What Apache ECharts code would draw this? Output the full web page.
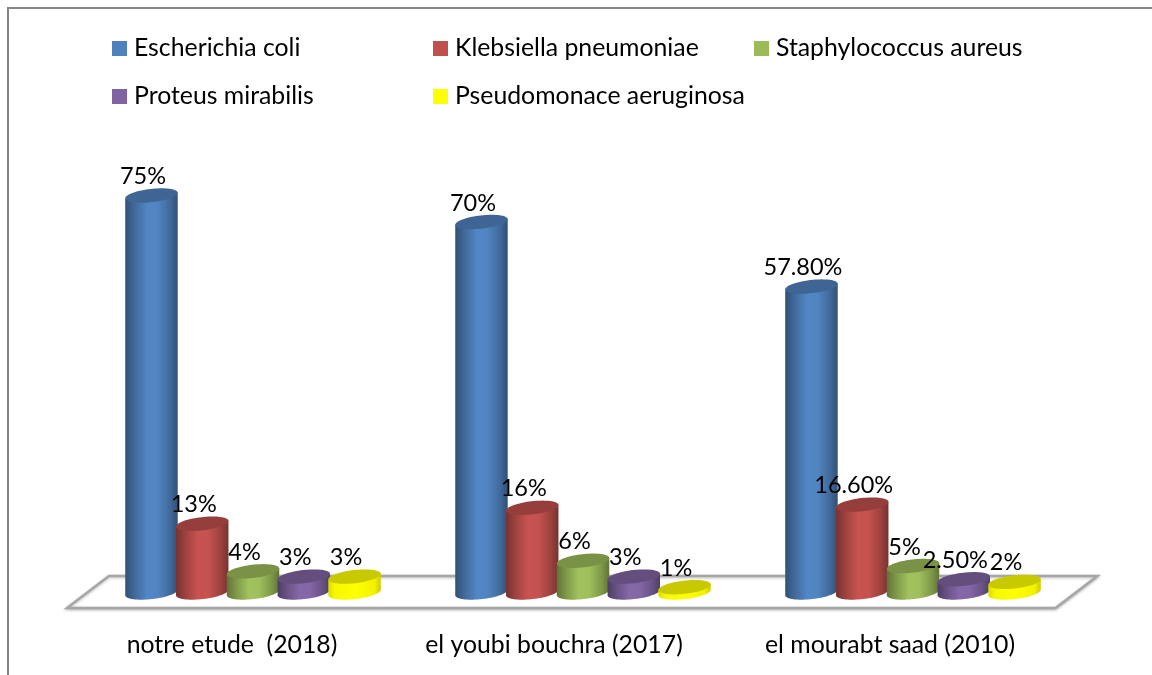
<!DOCTYPE html>
<html>
<head>
<meta charset="utf-8">
<style>html,body{margin:0;padding:0;background:#fff}#c{width:1152px;height:675px}</style>
<script src="https://cdn.jsdelivr.net/npm/echarts@6/dist/echarts.min.js"></script>
</head>
<body>
<div id="c"></div>
<script>
const categories = ["notre etude  (2018)", "el youbi bouchra (2017)", "el mourabt saad (2010)"];
const seriesNames = ["Escherichia coli", "Klebsiella pneumoniae", "Staphylococcus aureus", "Proteus mirabilis", "Pseudomonace aeruginosa"];
const escherichia = [75, 70, 57.8];
const klebsiella = [13, 16, 16.6];
const staphylococcus = [4, 6, 5];
const proteus = [3, 3, 2.5];
const pseudomonas = [3, 1, 2];
const seriesValues = [escherichia, klebsiella, staphylococcus, proteus, pseudomonas];

const colors = ["#4F81BD", "#C0504D", "#9BBB59", "#8064A2", "#FFFF00"];
const FONT = "Lato";
const FS = 24.8;
const FS_VALUE = 23.5;

function shade(hex, f) {
  const n = parseInt(hex.slice(1), 16);
  const c = [n >> 16 & 255, n >> 8 & 255, n & 255].map(v => Math.min(255, Math.round(v * f)));
  return "rgb(" + c.join(",") + ")";
}
function fmt(v) { return Number.isInteger(v) ? v + "%" : v.toFixed(2) + "%"; }

const THETA = 6.5 * Math.PI / 180, RY = 6.6;
function ellipsePoint(cx, cy, rx, t) {
  const x = rx * Math.cos(t), y = RY * Math.sin(t);
  return [cx + x * Math.cos(THETA) + y * Math.sin(THETA), cy - x * Math.sin(THETA) + y * Math.cos(THETA)];
}
function ellipse(cx, cy, rx) {
  const pts = [];
  for (let i = 0; i < 72; i++) pts.push(ellipsePoint(cx, cy, rx, i / 72 * 2 * Math.PI));
  return pts;
}
function cylinderItem(seriesIndex) {
  const color = colors[seriesIndex];
  return function (params, api) {
    const cat = api.value(0), val = api.value(1);
    const base = api.coord([cat, 0]), top = api.coord([cat, val]);
    const band = api.size([1, 0])[0];
    const pitch = band / 6.5;
    const cx = base[0] + (seriesIndex - 2) * pitch;
    const rx = pitch * 0.52;
    const body = [];
    // lower half of the base ellipse, then straight up to the top ellipse
    for (let i = 0; i <= 36; i++) body.push(ellipsePoint(cx, base[1], rx, i / 36 * Math.PI));
    body.push(ellipsePoint(cx, top[1], rx, Math.PI));
    body.push(ellipsePoint(cx, top[1], rx, 0));
    const isYellow = color === "#FFFF00";
    const grad = {
      type: "linear", x: 0, y: 0, x2: 1, y2: 0,
      colorStops: isYellow ? [
        { offset: 0, color: shade(color, 0.86) }, { offset: 0.12, color: shade(color, 0.97) },
        { offset: 0.5, color: color }, { offset: 0.88, color: shade(color, 0.95) }, { offset: 1, color: shade(color, 0.8) }
      ] : [
        { offset: 0, color: shade(color, 0.62) }, { offset: 0.18, color: shade(color, 0.82) },
        { offset: 0.42, color: shade(color, 1.04) }, { offset: 0.62, color: shade(color, 1.02) },
        { offset: 0.85, color: shade(color, 0.82) }, { offset: 1, color: shade(color, 0.62) }
      ]
    };
    return {
      type: "group",
      children: [
        { type: "polygon", shape: { points: body }, style: { fill: grad } },
        { type: "polygon", shape: { points: ellipse(cx, top[1], rx) }, style: { fill: shade(color, isYellow ? 0.79 : 0.78) } },
        {
          type: "text", z2: 100,
          style: {
            text: fmt(val), x: cx - 8.5, y: top[1] - 19,
            fill: "#000", font: FS_VALUE + "px " + FONT, align: "center", verticalAlign: "middle"
          }
        }
      ]
    };
  };
}
function floorItem(params, api) {
  const cs = params.coordSys;
  const y0 = cs.y + cs.height;
  return {
    type: "polygon",
    shape: { points: [[cs.x - 21, y0 + 15.5], [cs.x + 21, y0 - 16.5], [cs.x + cs.width + 19.5, y0 - 16.5], [cs.x + cs.width - 22.5, y0 + 15.5]] },
    style: { fill: "#fff", stroke: "#a6a6a6", lineWidth: 2.4, lineJoin: "miter", shadowColor: "rgba(0,0,0,0.25)", shadowBlur: 3, shadowOffsetY: 1 }
  };
}

const labelShift = [42, 58, 46];
const legendSpots = [[112, 36], [433, 36], [754, 36], [112, 84], [433, 84]];

const series = [{
  type: "custom", name: "floor", silent: true, renderItem: floorItem, data: [[0, 0]],
  encode: { x: 0, y: 1 }, z: 1
}].concat(seriesNames.map((name, i) => ({
  type: "custom", name, renderItem: cylinderItem(i), silent: true,
  itemStyle: { color: colors[i] }, z: 2, clip: false,
  encode: { x: 0, y: 1 },
  data: seriesValues[i].map((v, k) => [k, v])
})));

const option = {
  animation: false,
  backgroundColor: "#fff",
  tooltip: { show: false },
  grid: { left: 88, width: 990, top: 63.2, height: 529.3 },
  xAxis: {
    type: "category",
    data: categories.map((c, i) => ({ value: c, textStyle: { padding: [0, labelShift[i], 0, 0] } })),
    axisLine: { show: false }, axisTick: { show: false }, splitLine: { show: false },
    axisLabel: { interval: 0, margin: 40, color: "#000", fontFamily: FONT, fontSize: FS, hideOverlap: false }
  },
  yAxis: { type: "value", min: 0, max: 100, show: false },
  legend: seriesNames.map((name, i) => ({
    data: [name], left: legendSpots[i][0], top: legendSpots[i][1],
    itemWidth: 15, itemHeight: 15, selectedMode: false, padding: 0,
    icon: "rect",
    textStyle: { color: "#000", fontFamily: FONT, fontSize: FS, padding: [0, 0, 0, 2] }
  })),
  graphic: [
    { type: "polyline", silent: true, shape: { points: [[8, 675], [8, 8], [1152, 8]] }, style: { stroke: "#868686", lineWidth: 2, fill: null } }
  ],
  series
};
const chart = echarts.init(document.getElementById("c"), null, { renderer: "canvas" });
chart.setOption(option);
</script>
</body>
</html>
